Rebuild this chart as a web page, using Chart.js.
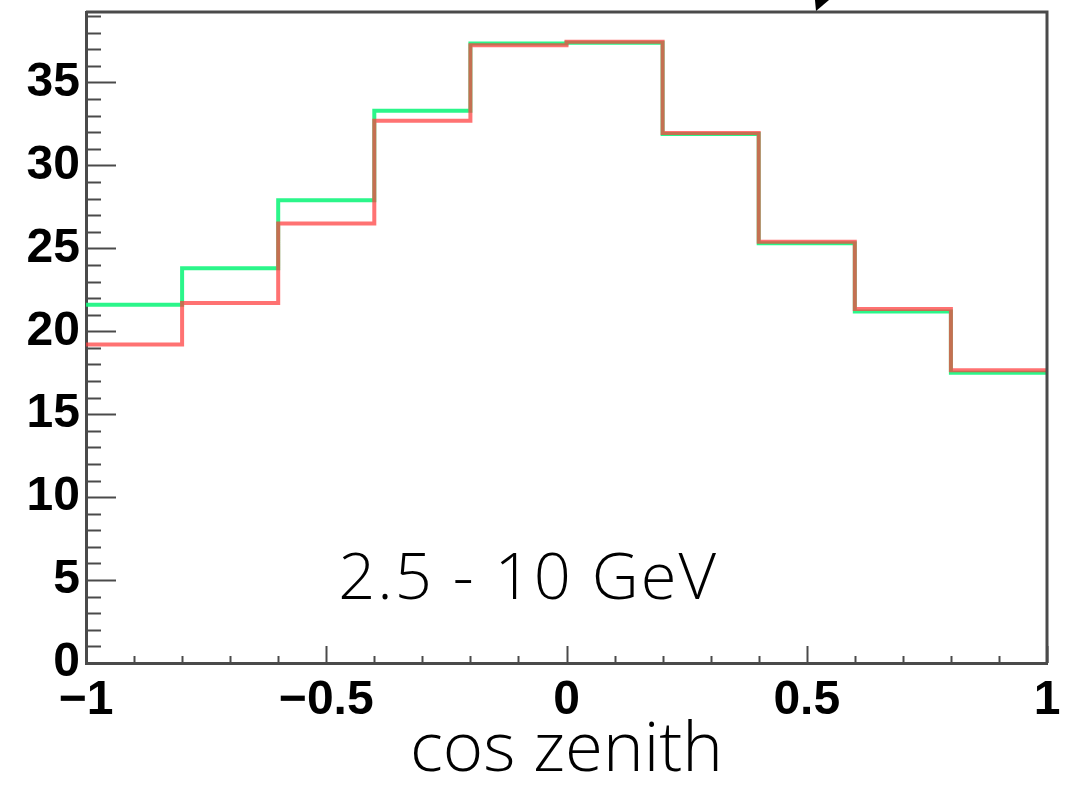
<!DOCTYPE html>
<html>
<head>
<meta charset="utf-8">
<script src="https://cdn.jsdelivr.net/npm/chart.js@4"></script>
<style>
  html, body { margin: 0; padding: 0; background: #fff; }
  #wrap { width: 1066px; height: 789px; }
</style>
</head>
<body>
<div id="wrap"><canvas id="hist"></canvas></div>
<script>
// bin edges in cos(zenith), 10 bins
const binEdges = [-1, -0.8, -0.6, -0.4, -0.2, 0, 0.2, 0.4, 0.6, 0.8, 1];
// counts per bin
const greenCounts = [21.6, 23.8, 27.9, 33.3, 37.35, 37.4, 31.9, 25.3, 21.2, 17.5];
const redCounts = [19.2, 21.7, 26.5, 32.7, 37.25, 37.45, 31.95, 25.4, 21.35, 17.65];
const yTicks = [0, 5, 10, 15, 20, 25, 30, 35];
const xTicks = [-1, -0.5, 0, 0.5, 1];
const energyLabel = "2.5 - 10 GeV";
const xTitle = "cos zenith";

// step histogram points: one per left edge plus the closing right edge
function histPoints(counts) {
  const pts = counts.map((c, i) => ({ x: binEdges[i], y: c }));
  pts.push({ x: binEdges[binEdges.length - 1], y: counts[counts.length - 1] });
  return pts;
}

const AXIS = "#4a4a4a";
const LIGHT = "'Open Sans', Roboto, 'Liberation Sans', sans-serif";
const tickFont = { family: "'Liberation Sans', Arial, sans-serif", size: 48, weight: "bold" };

// inner tick marks, frame and the energy label
const rootStyle = {
  id: "rootStyle",
  afterDraw(chart) {
    const { ctx, chartArea: a, scales: { x, y } } = chart;
    ctx.save();
    ctx.strokeStyle = AXIS;
    ctx.lineWidth = 2;
    // y ticks: minor every 1, major every 5
    for (let v = 0; v <= y.max; v += 1) {
      const py = Math.round(y.getPixelForValue(v)) + 0.5;
      const len = v % 5 === 0 ? 30 : 15;
      ctx.beginPath();
      ctx.moveTo(a.left, py);
      ctx.lineTo(a.left + len, py);
      ctx.stroke();
    }
    // x ticks: minor every 0.1, major every 0.5
    for (let i = 0; i <= 20; i++) {
      const v = -1 + i * 0.1;
      const px = Math.round(x.getPixelForValue(v)) + 0.5;
      const len = i % 5 === 0 ? 17 : 7;
      ctx.beginPath();
      ctx.moveTo(px, a.bottom);
      ctx.lineTo(px, a.bottom - len);
      ctx.stroke();
    }
    // top and right frame
    ctx.lineWidth = 3;
    ctx.beginPath();
    ctx.moveTo(a.left, a.top);
    ctx.lineTo(a.right, a.top);
    ctx.lineTo(a.right, a.bottom);
    ctx.stroke();

    // arrowhead poking in from above
    ctx.fillStyle = "#000";
    ctx.beginPath();
    ctx.moveTo(816, 11);
    ctx.lineTo(815, 0);
    ctx.lineTo(829, 0);
    ctx.closePath();
    ctx.fill();

    ctx.font = "300 65px " + LIGHT;
    ctx.letterSpacing = "2px";
    ctx.textAlign = "center";
    ctx.textBaseline = "alphabetic";
    ctx.fillText(energyLabel, x.getPixelForValue(-0.08), y.getPixelForValue(3.85));
    ctx.restore();
  }
};

new Chart(document.getElementById("hist"), {
  type: "line",
  data: {
    datasets: [
      {
        label: "green",
        data: histPoints(greenCounts),
        stepped: "before",
        borderColor: "rgba(20,245,125,0.9)",
        borderWidth: 4,
        pointRadius: 0,
        fill: false,
        order: 2,
      },
      {
        label: "red",
        data: histPoints(redCounts),
        stepped: "before",
        borderColor: "rgba(255,60,60,0.72)",
        borderWidth: 4,
        pointRadius: 0,
        fill: false,
        order: 1,
      },
    ],
  },
  options: {
    responsive: true,
    maintainAspectRatio: false,
    animation: false,
    layout: { padding: { left: 0, top: 12, right: 19, bottom: 0 } },
    plugins: { legend: { display: false }, tooltip: { enabled: false } },
    scales: {
      x: {
        type: "linear",
        min: -1,
        max: 1,
        grid: { display: false, drawTicks: false },
        border: { display: true, color: AXIS, width: 3 },
        afterBuildTicks: (s) => { s.ticks = xTicks.map(v => ({ value: v })); },
        ticks: {
          font: tickFont,
          color: "#000",
          padding: 9,
          maxRotation: 0,
          callback: (v) => (v < 0 ? "\u2212" + Math.abs(v) : String(v)),
        },
        title: {
          display: true,
          text: xTitle,
          color: "#000",
          font: { family: LIGHT, size: 69, weight: "300", lineHeight: 1 },
          padding: { top: 0, bottom: 3 },
        },
        afterFit: (s) => {
          s.height = 126;
          s.paddingLeft = 0;
          s.paddingRight = 0;
        },
      },
      y: {
        type: "linear",
        min: 0,
        max: 39.25,
        grid: { display: false, drawTicks: false },
        border: { display: true, color: AXIS, width: 3 },
        afterBuildTicks: (s) => { s.ticks = yTicks.map(v => ({ value: v })); },
        ticks: { font: tickFont, color: "#000", padding: 6 },
        afterFit: (s) => {
          s.width = 86;
          s.paddingTop = 0;
          s.paddingBottom = 0;
        },
      },
    },
  },
  plugins: [rootStyle],
});
</script>
</body>
</html>
